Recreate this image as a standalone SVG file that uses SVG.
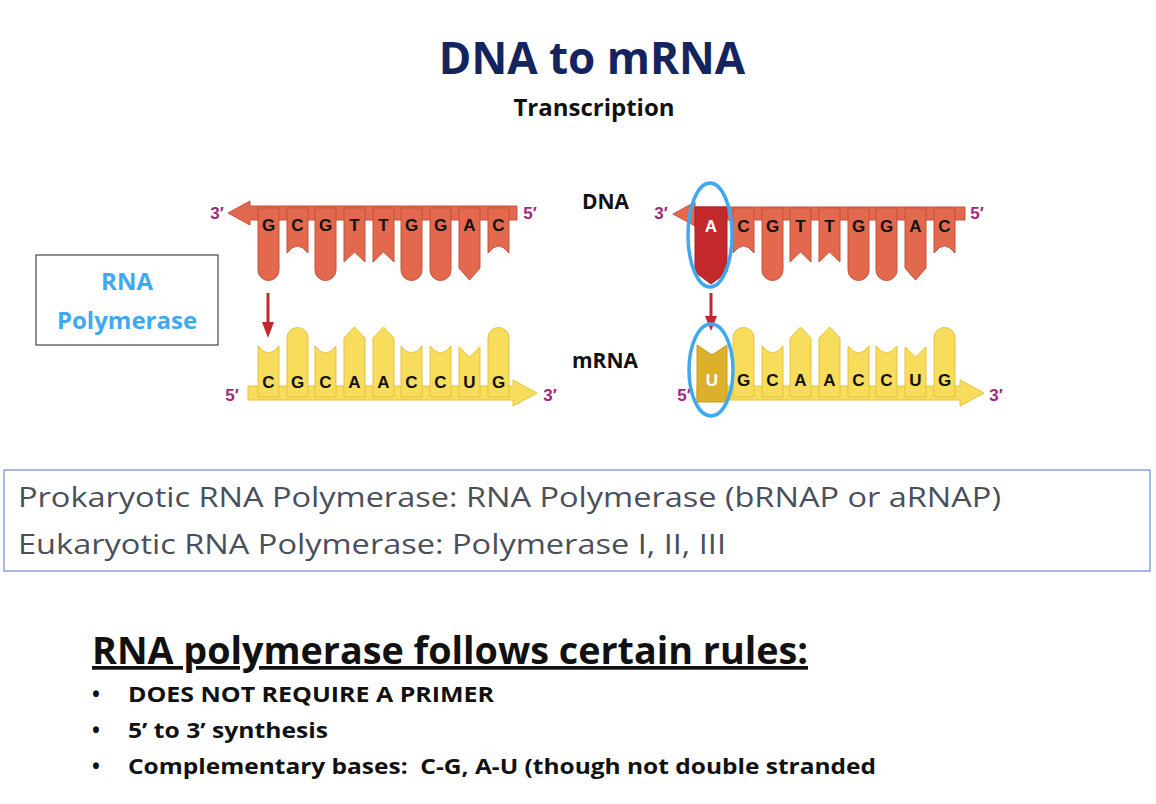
<svg xmlns="http://www.w3.org/2000/svg" xmlns:xlink="http://www.w3.org/1999/xlink" width="1156" height="804" viewBox="0 0 1156 804">
<style>
.d{fill:#e2694d;stroke:#c9503a;stroke-width:1}
.m{fill:#f8dc5c;stroke:#e5c23a;stroke-width:1}
.b{font-family:"Liberation Sans",Arial,sans-serif;font-weight:bold;font-size:17px;text-anchor:middle;fill:#111}
.p{font-family:"Liberation Sans",Arial,sans-serif;font-weight:bold;font-size:17px;fill:#a0287a;text-anchor:middle}
.lab{font-family:"Open Sans","Liberation Sans",sans-serif;font-weight:bold;font-size:21px;fill:#111}
.g{font-family:"Open Sans","Liberation Sans",sans-serif;font-size:27px;fill:#4a4f5c}
.r{font-family:"Open Sans","Liberation Sans",sans-serif;font-weight:bold;font-size:21px;fill:#111}
</style>
<defs>
<path id="dG" d="M0,0V62A10.5,10.5 0 0 0 21,62V0Z"/>
<path id="dC" d="M0,0V45Q10.5,31 21,45V0Z"/>
<path id="dT" d="M0,0V54L10.5,44L21,54V0Z"/>
<path id="dA" d="M0,0V60L10.5,72L21,60V0Z"/>
<path id="mG" d="M0,0V-59A10.5,10.5 0 0 1 21,-59V0Z"/>
<path id="mC" d="M0,0V-51Q10.5,-37 21,-51V0Z"/>
<path id="mA" d="M0,0V-59L10.5,-70L21,-59V0Z"/>
<path id="mU" d="M0,0V-50L10.5,-40L21,-50V0Z"/>
</defs>
<g id="title">
<text x="592" y="74" text-anchor="middle" font-family="Open Sans,Liberation Sans,sans-serif" font-weight="bold" font-size="44" fill="#13245e">DNA to mRNA</text>
<text x="594" y="116" text-anchor="middle" font-family="Open Sans,Liberation Sans,sans-serif" font-weight="bold" font-size="24" fill="#111">Transcription</text>
</g>
<g id="rnapol">
<rect x="36" y="255" width="182" height="90" fill="#fff" stroke="#222" stroke-width="1"/>
<text x="127" y="290" text-anchor="middle" font-family="Open Sans,Liberation Sans,sans-serif" font-weight="bold" font-size="24" fill="#3fa9f0">RNA</text>
<text x="127" y="329" text-anchor="middle" font-family="Open Sans,Liberation Sans,sans-serif" font-weight="bold" font-size="24" fill="#3fa9f0">Polymerase</text>
</g>
<g id="left-dna">
<polygon class="d" points="228,213 250,201 250,206 517,206 517,220 250,220 250,225"/>
<use href="#dG" x="258" y="208" class="d"/><use href="#dC" x="287" y="208" class="d"/><use href="#dG" x="315" y="208" class="d"/><use href="#dT" x="344" y="208" class="d"/><use href="#dT" x="373" y="208" class="d"/><use href="#dG" x="401" y="208" class="d"/><use href="#dG" x="430" y="208" class="d"/><use href="#dA" x="459" y="208" class="d"/><use href="#dC" x="488" y="208" class="d"/>
<text class="b" y="231"><tspan x="268.5">G</tspan><tspan x="297.5">C</tspan><tspan x="325.5">G</tspan><tspan x="354.5">T</tspan><tspan x="383.5">T</tspan><tspan x="411.5">G</tspan><tspan x="440.5">G</tspan><tspan x="469.5">A</tspan><tspan x="498.5">C</tspan></text>
<text class="p" x="217" y="219">3′</text><text class="p" x="530" y="219">5′</text>
</g>
<g id="left-mrna">
<polygon class="m" points="248,386 513,386 513,380 537,393 513,406 513,400 248,400"/>
<use href="#mC" x="258" y="397" class="m"/><use href="#mG" x="287" y="397" class="m"/><use href="#mC" x="315" y="397" class="m"/><use href="#mA" x="344" y="397" class="m"/><use href="#mA" x="373" y="397" class="m"/><use href="#mC" x="401" y="397" class="m"/><use href="#mC" x="430" y="397" class="m"/><use href="#mU" x="459" y="397" class="m"/><use href="#mG" x="488" y="397" class="m"/>
<text class="b" y="388"><tspan x="268.5">C</tspan><tspan x="297.5">G</tspan><tspan x="325.5">C</tspan><tspan x="354.5">A</tspan><tspan x="383.5">A</tspan><tspan x="411.5">C</tspan><tspan x="440.5">C</tspan><tspan x="469.5">U</tspan><tspan x="498.5">G</tspan></text>
<text class="p" x="232" y="401">5′</text><text class="p" x="550" y="401">3′</text>
</g>
<g id="right-dna">
<polygon class="d" points="673,214 695,202 695,207 965,207 965,220 695,220 695,226"/>
<path d="M695,207H727V272L711,284L695,272Z" fill="#c3282c" stroke="#a82024"/>
<use href="#dC" x="733" y="208" class="d"/><use href="#dG" x="762" y="208" class="d"/><use href="#dT" x="790" y="208" class="d"/><use href="#dT" x="819" y="208" class="d"/><use href="#dG" x="848" y="208" class="d"/><use href="#dG" x="876" y="208" class="d"/><use href="#dA" x="905" y="208" class="d"/><use href="#dC" x="934" y="208" class="d"/>
<text class="b" y="232"><tspan x="711" fill="#fff">A</tspan><tspan x="743.5">C</tspan><tspan x="772.5">G</tspan><tspan x="800.5">T</tspan><tspan x="829.5">T</tspan><tspan x="858.5">G</tspan><tspan x="886.5">G</tspan><tspan x="915.5">A</tspan><tspan x="944.5">C</tspan></text>
<text class="p" x="661" y="219">3′</text><text class="p" x="977" y="219">5′</text>
<text class="lab" x="582" y="209">DNA</text>
</g>
<g id="right-mrna">
<polygon class="m" points="697,386 960,386 960,380 984,393 960,406 960,400 697,400"/>
<path d="M697,402V345L712,355L727,345V402Z" fill="#ddb02c" stroke="#c99a20"/>
<use href="#mG" x="733" y="397" class="m"/><use href="#mC" x="762" y="397" class="m"/><use href="#mA" x="790" y="397" class="m"/><use href="#mA" x="819" y="397" class="m"/><use href="#mC" x="848" y="397" class="m"/><use href="#mC" x="876" y="397" class="m"/><use href="#mU" x="905" y="397" class="m"/><use href="#mG" x="934" y="397" class="m"/>
<text class="b" y="386"><tspan x="712" fill="#fff">U</tspan><tspan x="743.5">G</tspan><tspan x="772.5">C</tspan><tspan x="800.5">A</tspan><tspan x="829.5">A</tspan><tspan x="858.5">C</tspan><tspan x="886.5">C</tspan><tspan x="915.5">U</tspan><tspan x="944.5">G</tspan></text>
<text class="p" x="684" y="401">5′</text><text class="p" x="996" y="401">3′</text>
<text class="lab" x="572" y="368">mRNA</text>
</g>
<g id="connectors" fill="#c0282b">
<rect x="266.5" y="293" width="3" height="30"/><polygon points="262,322 274,322 268,338"/>
<rect x="709.5" y="293" width="3" height="24"/><polygon points="705,316 717,316 711,331"/>
</g>
<g id="highlights" fill="none" stroke="#3fa9f0" stroke-width="3.5">
<ellipse cx="710" cy="235" rx="22" ry="52"/>
<ellipse cx="711" cy="370" rx="22" ry="46"/>
</g>
<g id="infobox">
<rect x="4" y="470" width="1146" height="101" fill="#fff" stroke="#4f74c8" stroke-width="1"/>
<text class="g" x="18" y="507" textLength="983" lengthAdjust="spacingAndGlyphs">Prokaryotic RNA Polymerase: RNA Polymerase (bRNAP or aRNAP)</text>
<text class="g" x="18" y="554" textLength="708" lengthAdjust="spacingAndGlyphs">Eukaryotic RNA Polymerase: Polymerase I, II, III</text>
</g>
<g id="rules">
<text x="92" y="664" font-family="Open Sans,Liberation Sans,sans-serif" font-weight="bold" font-size="37" fill="#111" text-decoration="underline" textLength="716" lengthAdjust="spacingAndGlyphs">RNA polymerase follows certain rules:</text>
<g class="r">
<text x="92" y="702">•</text><text x="128" y="702" textLength="366" lengthAdjust="spacingAndGlyphs">DOES NOT REQUIRE A PRIMER</text>
<text x="92" y="738">•</text><text x="128" y="738" textLength="200" lengthAdjust="spacingAndGlyphs">5’ to 3’ synthesis</text>
<text x="92" y="774">•</text><text x="128" y="774" textLength="748" lengthAdjust="spacingAndGlyphs" xml:space="preserve">Complementary bases:  C-G, A-U (though not double stranded</text>
</g>
</g>
</svg>
